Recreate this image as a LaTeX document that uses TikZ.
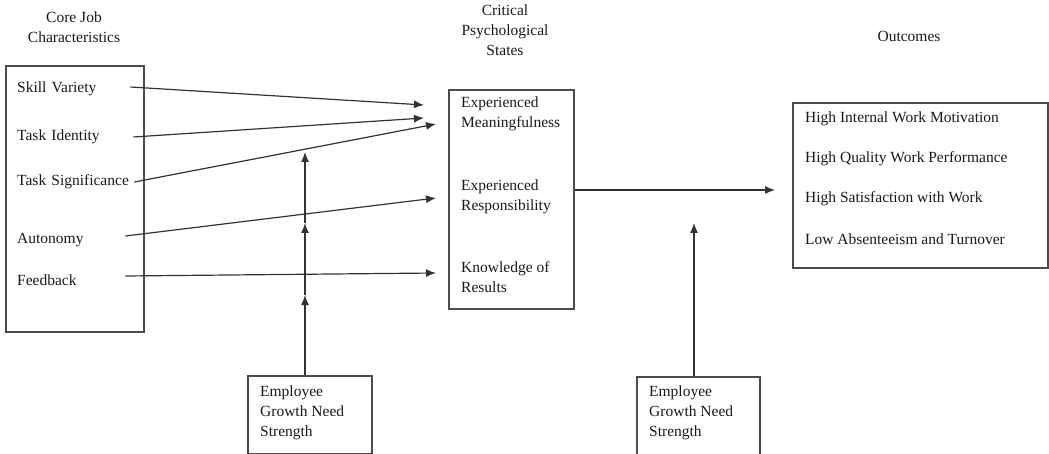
\documentclass[tikz,border=0pt]{standalone}
\usepackage{fontspec}
\setmainfont{Liberation Serif}
\usetikzlibrary{arrows.meta}
\tikzset{
  lbl/.style={inner sep=0pt, anchor=west, align=left, text=black!90},
  head/.style={inner sep=0pt, align=center, text=black!90},
  boxed/.style={draw=black!70, line width=1.6pt, inner sep=0pt},
  arr/.style={draw=black!80, line width=1.2pt, -{Latex[length=10pt,width=8pt]}}
}
\begin{document}
\begin{tikzpicture}[x=1pt, y=-1pt, font=\fontsize{15.5}{20}\selectfont]
        \useasboundingbox (0,0) rectangle (1049,454);
        % 1. Tiêu đề
        \node[head] (hcore) at (74,27) {Core Job\\Characteristics};
        \node[head] (hcrit) at (505,30) {Critical\\Psychological\\States};
        \node[head] (hout) at (909,36) {Outcomes};

        % 2. Các khung
        \node[boxed, anchor=north west, minimum width=138pt, minimum height=266pt] (core) at (5,65) {};
        \node[boxed, anchor=north west, minimum width=125pt, minimum height=219pt] (crit) at (448,89) {};
        \node[boxed, anchor=north west, minimum width=255pt, minimum height=165pt] (out) at (792,102) {};
        \node[boxed, anchor=north west, minimum width=124pt, minimum height=78pt] (gnsa) at (247,375) {};
        \node[boxed, anchor=north west, minimum width=123pt, minimum height=78pt] (gnsb) at (636,376) {};

        % 3. Đặc điểm công việc
        \node[lbl, text width=113pt] (sv) at (17,89) {Skill Variety};
        \node[lbl, text width=116pt] (ti) at (17,137) {Task Identity};
        \node[lbl, text width=117pt] (ts) at (17,182) {Task Significance};
        \node[lbl, text width=108pt] (au) at (17,240) {Autonomy};
        \node[lbl, text width=108pt] (fb) at (17,280) {Feedback};

        % 4. Trạng thái tâm lý
        \node[lbl] (em) at (461,114) {Experienced\\Meaningfulness};
        \node[lbl] (er) at (461,197) {Experienced\\Responsibility};
        \node[lbl] (kr) at (461,277) {Knowledge of\\Results};

        % 5. Kết quả
        \node[lbl] (o1) at (805,119) {High Internal Work Motivation};
        \node[lbl] (o2) at (805,159) {High Quality Work Performance};
        \node[lbl] (o3) at (805,199) {High Satisfaction with Work};
        \node[lbl] (o4) at (805,239) {Low Absenteeism and Turnover};

        % 6. Nhu cầu phát triển
        \node[lbl] (ga) at (260,413) {Employee\\Growth Need\\Strength};
        \node[lbl] (gb) at (649,413) {Employee\\Growth Need\\Strength};

        % 7. Mũi tên
        \coordinate (sv-in) at (424,105);
        \coordinate (ti-in) at (424,118);
        \coordinate (ts-in) at (436,124);
        \coordinate (au-in) at (436,198);
        \coordinate (fb-in) at (436,273);
        \draw[arr] (sv.east) ++(0,-2) -- (sv-in);
        \draw[arr] (ti.east) -- (ti-in);
        \draw[arr] (ts.east) -- (ts-in);
        \draw[arr] (au.east) ++(0,-4) -- (au-in);
        \draw[arr] (fb.east) ++(0,-4) -- (fb-in);

        \coordinate (ma) at (305,295);
        \coordinate (mb) at (305,223);
        \coordinate (mc) at (305,152);
        \draw[arr] (gnsa.north -| ma) -- (ma);
        \draw[arr] (ma) -- (mb);
        \draw[arr] (mb) -- (mc);

        \coordinate (out-in) at (775,190);
        \coordinate (md) at (694,223);
        \draw[arr] (crit.east |- out-in) -- (out-in);
        \draw[arr] (gnsb.north -| md) -- (md);
\end{tikzpicture}
\end{document}
